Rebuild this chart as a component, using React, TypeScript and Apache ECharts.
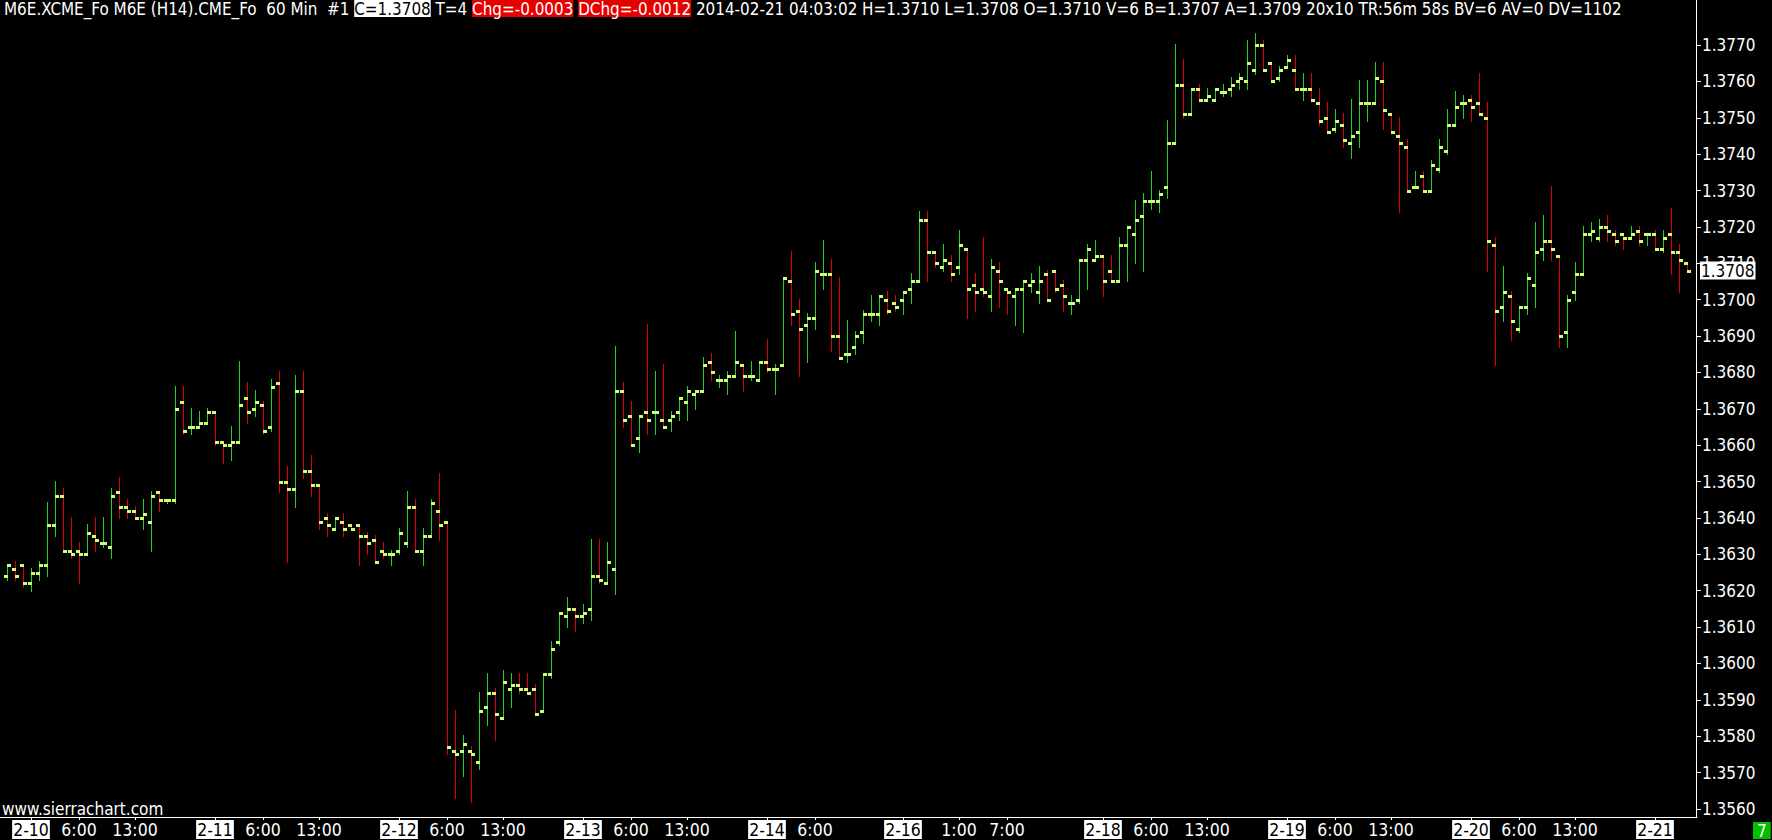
import React, { useEffect, useRef } from 'react';
import * as echarts from 'echarts';

const openPrices = [
1.3624,1.3626,1.3627,1.3622,1.3625,1.3627,1.3638,1.3646,1.3631,1.3631,
1.3630,1.3635,1.3633,1.3632,1.3647,1.3643,1.3642,1.3640,1.3639,1.3647,
1.3645,1.3645,1.3672,1.3665,1.3665,1.3666,1.3669,1.3661,1.3660,1.3661,
1.3673,1.3670,1.3671,1.3665,1.3677,1.3650,1.3648,1.3675,1.3653,1.3649,
1.3640,1.3637,1.3639,1.3638,1.3638,1.3635,1.3634,1.3631,1.3630,1.3631,
1.3633,1.3643,1.3631,1.3635,1.3642,1.3639,1.3576,1.3576,1.3576,1.3573,
1.3588,1.3592,1.3585,1.3593,1.3594,1.3593,1.3593,1.3587,1.3597,1.3606,
1.3613,1.3615,1.3613,1.3615,1.3624,1.3622,1.3626,1.3675,1.3668,1.3662,
1.3669,1.3669,1.3667,1.3667,1.3669,1.3672,1.3674,1.3675,1.3683,1.3678,
1.3678,1.3679,1.3682,1.3679,1.3678,1.3683,1.3681,1.3682,1.3705,1.3697,
1.3693,1.3695,1.3707,1.3707,1.3690,1.3685,1.3687,1.3691,1.3696,1.3696,
1.3700,1.3699,1.3700,1.3703,1.3705,1.3722,1.3713,1.3709,1.3710,1.3709,
1.3714,1.3704,1.3703,1.3701,1.3708,1.3703,1.3701,1.3703,1.3704,1.3702,
1.3707,1.3708,1.3704,1.3699,1.3700,1.3711,1.3711,1.3712,1.3708,1.3705,
1.3715,1.3718,1.3723,1.3727,1.3727,1.3731,1.3743,1.3759,1.3751,1.3758,
1.3755,1.3755,1.3757,1.3758,1.3760,1.3760,1.3763,1.3770,1.3765,1.3761,
1.3764,1.3763,1.3758,1.3758,1.3754,1.3750,1.3747,1.3748,1.3743,1.3746,
1.3754,1.3754,1.3760,1.3751,1.3745,1.3742,1.3731,1.3734,1.3730,1.3736,
1.3741,1.3748,1.3754,1.3755,1.3754,1.3750,1.3715,1.3698,1.3701,1.3692,
1.3698,1.3704,1.3714,1.3716,1.3712,1.3691,1.3702,1.3707,1.3718,1.3717,
1.3720,1.3718,1.3718,1.3717,1.3719,1.3718,1.3718,1.3714,1.3718,1.3713,
1.3710];

const highPrices = [
1.3627,1.3628,1.3627,1.3626,1.3628,1.3644,1.3650,1.3648,1.3640,1.3633,
1.3638,1.3640,1.3640,1.3648,1.3651,1.3645,1.3643,1.3645,1.3647,1.3647,
1.3645,1.3676,1.3676,1.3670,1.3669,1.3670,1.3669,1.3661,1.3665,1.3683,
1.3677,1.3675,1.3672,1.3678,1.3680,1.3654,1.3679,1.3680,1.3657,1.3649,
1.3641,1.3640,1.3641,1.3638,1.3638,1.3636,1.3635,1.3633,1.3631,1.3637,
1.3647,1.3645,1.3637,1.3645,1.3652,1.3639,1.3587,1.3580,1.3577,1.3592,
1.3597,1.3593,1.3598,1.3597,1.3597,1.3597,1.3594,1.3597,1.3606,1.3614,
1.3618,1.3615,1.3616,1.3634,1.3634,1.3633,1.3687,1.3677,1.3672,1.3668,
1.3693,1.3680,1.3682,1.3669,1.3673,1.3676,1.3675,1.3684,1.3685,1.3679,
1.3680,1.3691,1.3682,1.3683,1.3683,1.3689,1.3682,1.3706,1.3713,1.3700,
1.3696,1.3710,1.3716,1.3711,1.3706,1.3694,1.3691,1.3697,1.3701,1.3701,
1.3702,1.3701,1.3702,1.3707,1.3724,1.3724,1.3713,1.3715,1.3712,1.3719,
1.3714,1.3707,1.3717,1.3711,1.3710,1.3703,1.3703,1.3705,1.3707,1.3709,
1.3708,1.3708,1.3705,1.3701,1.3711,1.3715,1.3716,1.3712,1.3712,1.3717,
1.3720,1.3727,1.3729,1.3735,1.3730,1.3749,1.3770,1.3766,1.3758,1.3759,
1.3758,1.3758,1.3759,1.3761,1.3762,1.3771,1.3773,1.3771,1.3765,1.3764,
1.3767,1.3767,1.3762,1.3762,1.3758,1.3754,1.3752,1.3751,1.3755,1.3760,
1.3760,1.3765,1.3765,1.3751,1.3750,1.3744,1.3735,1.3735,1.3738,1.3744,
1.3752,1.3757,1.3756,1.3756,1.3762,1.3754,1.3717,1.3709,1.3702,1.3698,
1.3707,1.3721,1.3723,1.3731,1.3712,1.3701,1.3710,1.3720,1.3721,1.3722,
1.3723,1.3719,1.3718,1.3720,1.3720,1.3718,1.3719,1.3719,1.3725,1.3715,
1.3710];

const lowPrices = [
1.3623,1.3623,1.3621,1.3620,1.3623,1.3624,1.3635,1.3631,1.3629,1.3622,
1.3630,1.3631,1.3632,1.3629,1.3640,1.3640,1.3640,1.3637,1.3631,1.3642,
1.3644,1.3644,1.3663,1.3663,1.3665,1.3666,1.3660,1.3655,1.3656,1.3661,
1.3666,1.3668,1.3663,1.3664,1.3647,1.3628,1.3643,1.3651,1.3646,1.3637,
1.3635,1.3637,1.3635,1.3637,1.3627,1.3630,1.3628,1.3629,1.3627,1.3630,
1.3632,1.3631,1.3627,1.3635,1.3634,1.3575,1.3563,1.3569,1.3562,1.3571,
1.3583,1.3579,1.3585,1.3588,1.3592,1.3592,1.3586,1.3587,1.3596,1.3605,
1.3610,1.3609,1.3611,1.3612,1.3622,1.3622,1.3619,1.3665,1.3660,1.3658,
1.3663,1.3663,1.3665,1.3664,1.3667,1.3667,1.3670,1.3675,1.3678,1.3676,
1.3674,1.3679,1.3675,1.3678,1.3678,1.3680,1.3674,1.3682,1.3693,1.3679,
1.3683,1.3692,1.3703,1.3686,1.3684,1.3683,1.3685,1.3688,1.3694,1.3693,
1.3696,1.3697,1.3696,1.3699,1.3705,1.3705,1.3709,1.3708,1.3705,1.3707,
1.3695,1.3697,1.3701,1.3697,1.3698,1.3696,1.3693,1.3691,1.3702,1.3699,
1.3700,1.3702,1.3697,1.3696,1.3699,1.3703,1.3711,1.3701,1.3705,1.3705,
1.3705,1.3710,1.3708,1.3725,1.3724,1.3728,1.3743,1.3750,1.3751,1.3755,
1.3755,1.3755,1.3756,1.3756,1.3758,1.3758,1.3762,1.3763,1.3760,1.3760,
1.3764,1.3758,1.3755,1.3755,1.3748,1.3746,1.3746,1.3742,1.3739,1.3742,
1.3749,1.3754,1.3747,1.3746,1.3724,1.3730,1.3731,1.3730,1.3730,1.3735,
1.3740,1.3748,1.3750,1.3749,1.3751,1.3708,1.3682,1.3694,1.3689,1.3691,
1.3696,1.3698,1.3711,1.3711,1.3687,1.3687,1.3700,1.3707,1.3716,1.3716,
1.3716,1.3715,1.3714,1.3717,1.3715,1.3715,1.3714,1.3713,1.3707,1.3702,
1.3708];

const closePrices = [
1.3627,1.3624,1.3622,1.3625,1.3627,1.3638,1.3646,1.3631,1.3630,1.3630,
1.3636,1.3634,1.3633,1.3646,1.3643,1.3642,1.3640,1.3641,1.3646,1.3645,
1.3645,1.3670,1.3664,1.3665,1.3666,1.3669,1.3661,1.3660,1.3661,1.3671,
1.3669,1.3672,1.3664,1.3676,1.3650,1.3648,1.3675,1.3653,1.3649,1.3639,
1.3638,1.3640,1.3637,1.3637,1.3635,1.3633,1.3628,1.3630,1.3630,1.3636,
1.3643,1.3631,1.3635,1.3644,1.3638,1.3577,1.3575,1.3578,1.3575,1.3587,
1.3592,1.3586,1.3595,1.3594,1.3593,1.3592,1.3586,1.3597,1.3604,1.3614,
1.3615,1.3613,1.3614,1.3624,1.3623,1.3628,1.3675,1.3667,1.3660,1.3668,
1.3667,1.3669,1.3665,1.3668,1.3673,1.3675,1.3675,1.3682,1.3680,1.3678,
1.3679,1.3683,1.3679,1.3679,1.3683,1.3681,1.3681,1.3706,1.3696,1.3692,
1.3695,1.3708,1.3707,1.3690,1.3684,1.3685,1.3690,1.3696,1.3696,1.3701,
1.3697,1.3698,1.3702,1.3705,1.3722,1.3713,1.3710,1.3711,1.3707,1.3715,
1.3703,1.3702,1.3702,1.3709,1.3705,1.3702,1.3703,1.3705,1.3705,1.3705,
1.3700,1.3703,1.3701,1.3699,1.3711,1.3714,1.3712,1.3705,1.3705,1.3715,
1.3720,1.3722,1.3727,1.3727,1.3729,1.3743,1.3759,1.3751,1.3758,1.3755,
1.3756,1.3758,1.3757,1.3759,1.3761,1.3765,1.3770,1.3763,1.3760,1.3763,
1.3766,1.3758,1.3758,1.3755,1.3749,1.3746,1.3749,1.3744,1.3745,1.3754,
1.3754,1.3761,1.3752,1.3746,1.3743,1.3730,1.3731,1.3730,1.3737,1.3742,
1.3748,1.3753,1.3754,1.3753,1.3751,1.3716,1.3697,1.3702,1.3694,1.3698,
1.3706,1.3713,1.3716,1.3714,1.3690,1.3700,1.3707,1.3718,1.3719,1.3720,
1.3719,1.3716,1.3717,1.3718,1.3716,1.3718,1.3714,1.3717,1.3713,1.3711,
1.3708];

// bar index of each time-axis label, and its text
const xLabelIndex = [3, 9, 16, 26, 32, 39, 49, 55, 62, 72, 78, 85, 95, 101, 112, 119, 125, 137, 143, 150, 160, 166, 173, 183, 189, 196, 206];
const xLabelText = ['2-10', '6:00', '13:00', '2-11', '6:00', '13:00', '2-12', '6:00', '13:00', '2-13', '6:00', '13:00', '2-14', '6:00', '2-16', '1:00', '7:00', '2-18', '6:00', '13:00', '2-19', '6:00', '13:00', '2-20', '6:00', '13:00', '2-21'];

const headerText = [
  { style: 'n', text: 'M6E.XCME_Fo M6E (H14).CME_Fo  60 Min  #1 ' },
  { style: 'w', text: 'C=1.3708' },
  { style: 'n', text: ' T=4 ' },
  { style: 'r', text: 'Chg=-0.0003' },
  { style: 'n', text: ' ' },
  { style: 'r', text: 'DChg=-0.0012' },
  { style: 'n', text: ' 2014-02-21 04:03:02 H=1.3710 L=1.3708 O=1.3710 V=6 B=1.3707 A=1.3709 20x10 TR:56m 58s BV=6 AV=0 DV=1102' },
];

const GREEN = '#1ed21e';
const RED = '#e00000';
const TICK = '#ccff77';
const FONT = '"DejaVu Sans Condensed", "DejaVu Sans", sans-serif';

export default function App() {
  const ref = useRef<HTMLDivElement>(null);
  useEffect(() => {
    const chart = echarts.init(ref.current!, null, { renderer: 'svg' });
    const data = openPrices.map((o, i) => [i, o, highPrices[i], lowPrices[i], closePrices[i]]);
    const renderItem = (params: any, api: any) => {
      const i = api.value(0);
      const o = api.value(1), h = api.value(2), l = api.value(3), c = api.value(4);
      const pH = api.coord([i, h]);
      const pL = api.coord([i, l]);
      const pO = api.coord([i, o]);
      const pC = api.coord([i, c]);
      const x = Math.round(pH[0]);
      const color = c >= o ? GREEN : RED;
      const yH = Math.round(pH[1]) - 1;
      const yL = Math.round(pL[1]) + 1;
      return {
        type: 'group',
        children: [
          { type: 'rect', shape: { x, y: yH, width: 1, height: Math.max(1, yL - yH) }, style: { fill: color } },
          { type: 'rect', shape: { x: x - 3, y: Math.round(pO[1]) - 1, width: 4, height: 3 }, style: { fill: TICK } },
          { type: 'rect', shape: { x, y: Math.round(pC[1]) - 1, width: 4, height: 3 }, style: { fill: TICK } },
        ],
      };
    };
    const lastIndex = closePrices.length - 1;
    const last = closePrices[lastIndex];
    const headerRich = headerText.map((s) => `{${s.style}|${s.text}}`).join('');
    const option: any = {
      animation: false,
      backgroundColor: '#000',
      grid: { left: 0, right: 75, top: 45, bottom: 31 },
      xAxis: {
        type: 'value',
        min: -0.875,
        max: 211.25,
        offset: 8,
        splitLine: { show: false },
        axisLine: { show: true, onZero: false, lineStyle: { color: '#fff', width: 1 } },
        axisTick: { show: true, customValues: xLabelIndex, length: 3, lineStyle: { color: '#fff' } },
        axisLabel: {
          customValues: xLabelIndex,
          margin: 4,
          formatter: (v: number) => {
            const k = xLabelIndex.indexOf(Math.round(v));
            if (k < 0) return '';
            const t = xLabelText[k];
            return t.indexOf('-') >= 0 ? `{d|${t}}` : `{t|${t}}`;
          },
          rich: {
            d: { backgroundColor: '#fff', color: '#000', fontSize: 17.5, fontFamily: FONT, padding: [1, 1, 0, 1], lineHeight: 17 },
            t: { color: '#fff', fontSize: 17.5, fontFamily: FONT, padding: [1, 0, 0, 0], lineHeight: 17 },
          },
        },
      },
      yAxis: {
        type: 'value',
        position: 'right',
        min: 1.356,
        max: 1.377,
        interval: 0.001,
        scale: true,
        z: 0,
        splitLine: { show: false },
        axisLine: { show: false, onZero: false },
        axisTick: { show: true, length: 4, lineStyle: { color: '#fff' } },
        axisLabel: { color: '#fff', fontFamily: FONT, fontSize: 17, margin: 5, formatter: (v: number) => v.toFixed(4) },
      },
      series: [
        {
          type: 'custom',
          renderItem,
          data,
          clip: false,
          encode: { x: 0, y: [1, 2, 3, 4] },
          z: 2,
        },
        {
          type: 'scatter',
          data: [[lastIndex, last]],
          symbolSize: 0,
          silent: true,
          z: 20,
          label: {
            show: true,
            position: 'right',
            distance: 13,
            formatter: () => last.toFixed(4),
            backgroundColor: '#ffffff',
            color: '#000000',
            opacity: 1,
            fontFamily: FONT,
            fontSize: 17,
            padding: [1, 1, 0, 1],
          },
        },
      ],
      graphic: [
        {
          type: 'line',
          shape: { x1: 1696.5, y1: 0, x2: 1696.5, y2: 817 },
          style: { stroke: '#fff', lineWidth: 1 },
          z: 10,
        },
        {
          type: 'text',
          left: 4,
          top: 0,
          style: {
            text: headerRich,
            rich: {
              n: { fill: '#fff', fontSize: 16.9, fontFamily: FONT, lineHeight: 20 },
              w: { fill: '#000', backgroundColor: '#fff', fontSize: 16.9, fontFamily: FONT, lineHeight: 20 },
              r: { fill: '#fff', backgroundColor: '#e60000', fontSize: 16.9, fontFamily: FONT, lineHeight: 20 },
            },
          },
        },
        {
          type: 'text',
          left: 2,
          top: 800,
          style: { text: 'www.sierrachart.com', fill: '#fff', fontSize: 17, fontFamily: FONT },
        },
        {
          type: 'text',
          left: 1753,
          top: 822,
          style: { text: '7', fill: '#fff', fontSize: 17, fontFamily: FONT, backgroundColor: '#00c000', padding: [0, 4, 0, 4] },
        },
      ],
    };
    chart.setOption(option);
    return () => chart.dispose();
  }, []);
  return <div ref={ref} style={{ position: 'absolute', left: 0, top: 0, width: 1772, height: 840, background: '#000' }} />;
}
